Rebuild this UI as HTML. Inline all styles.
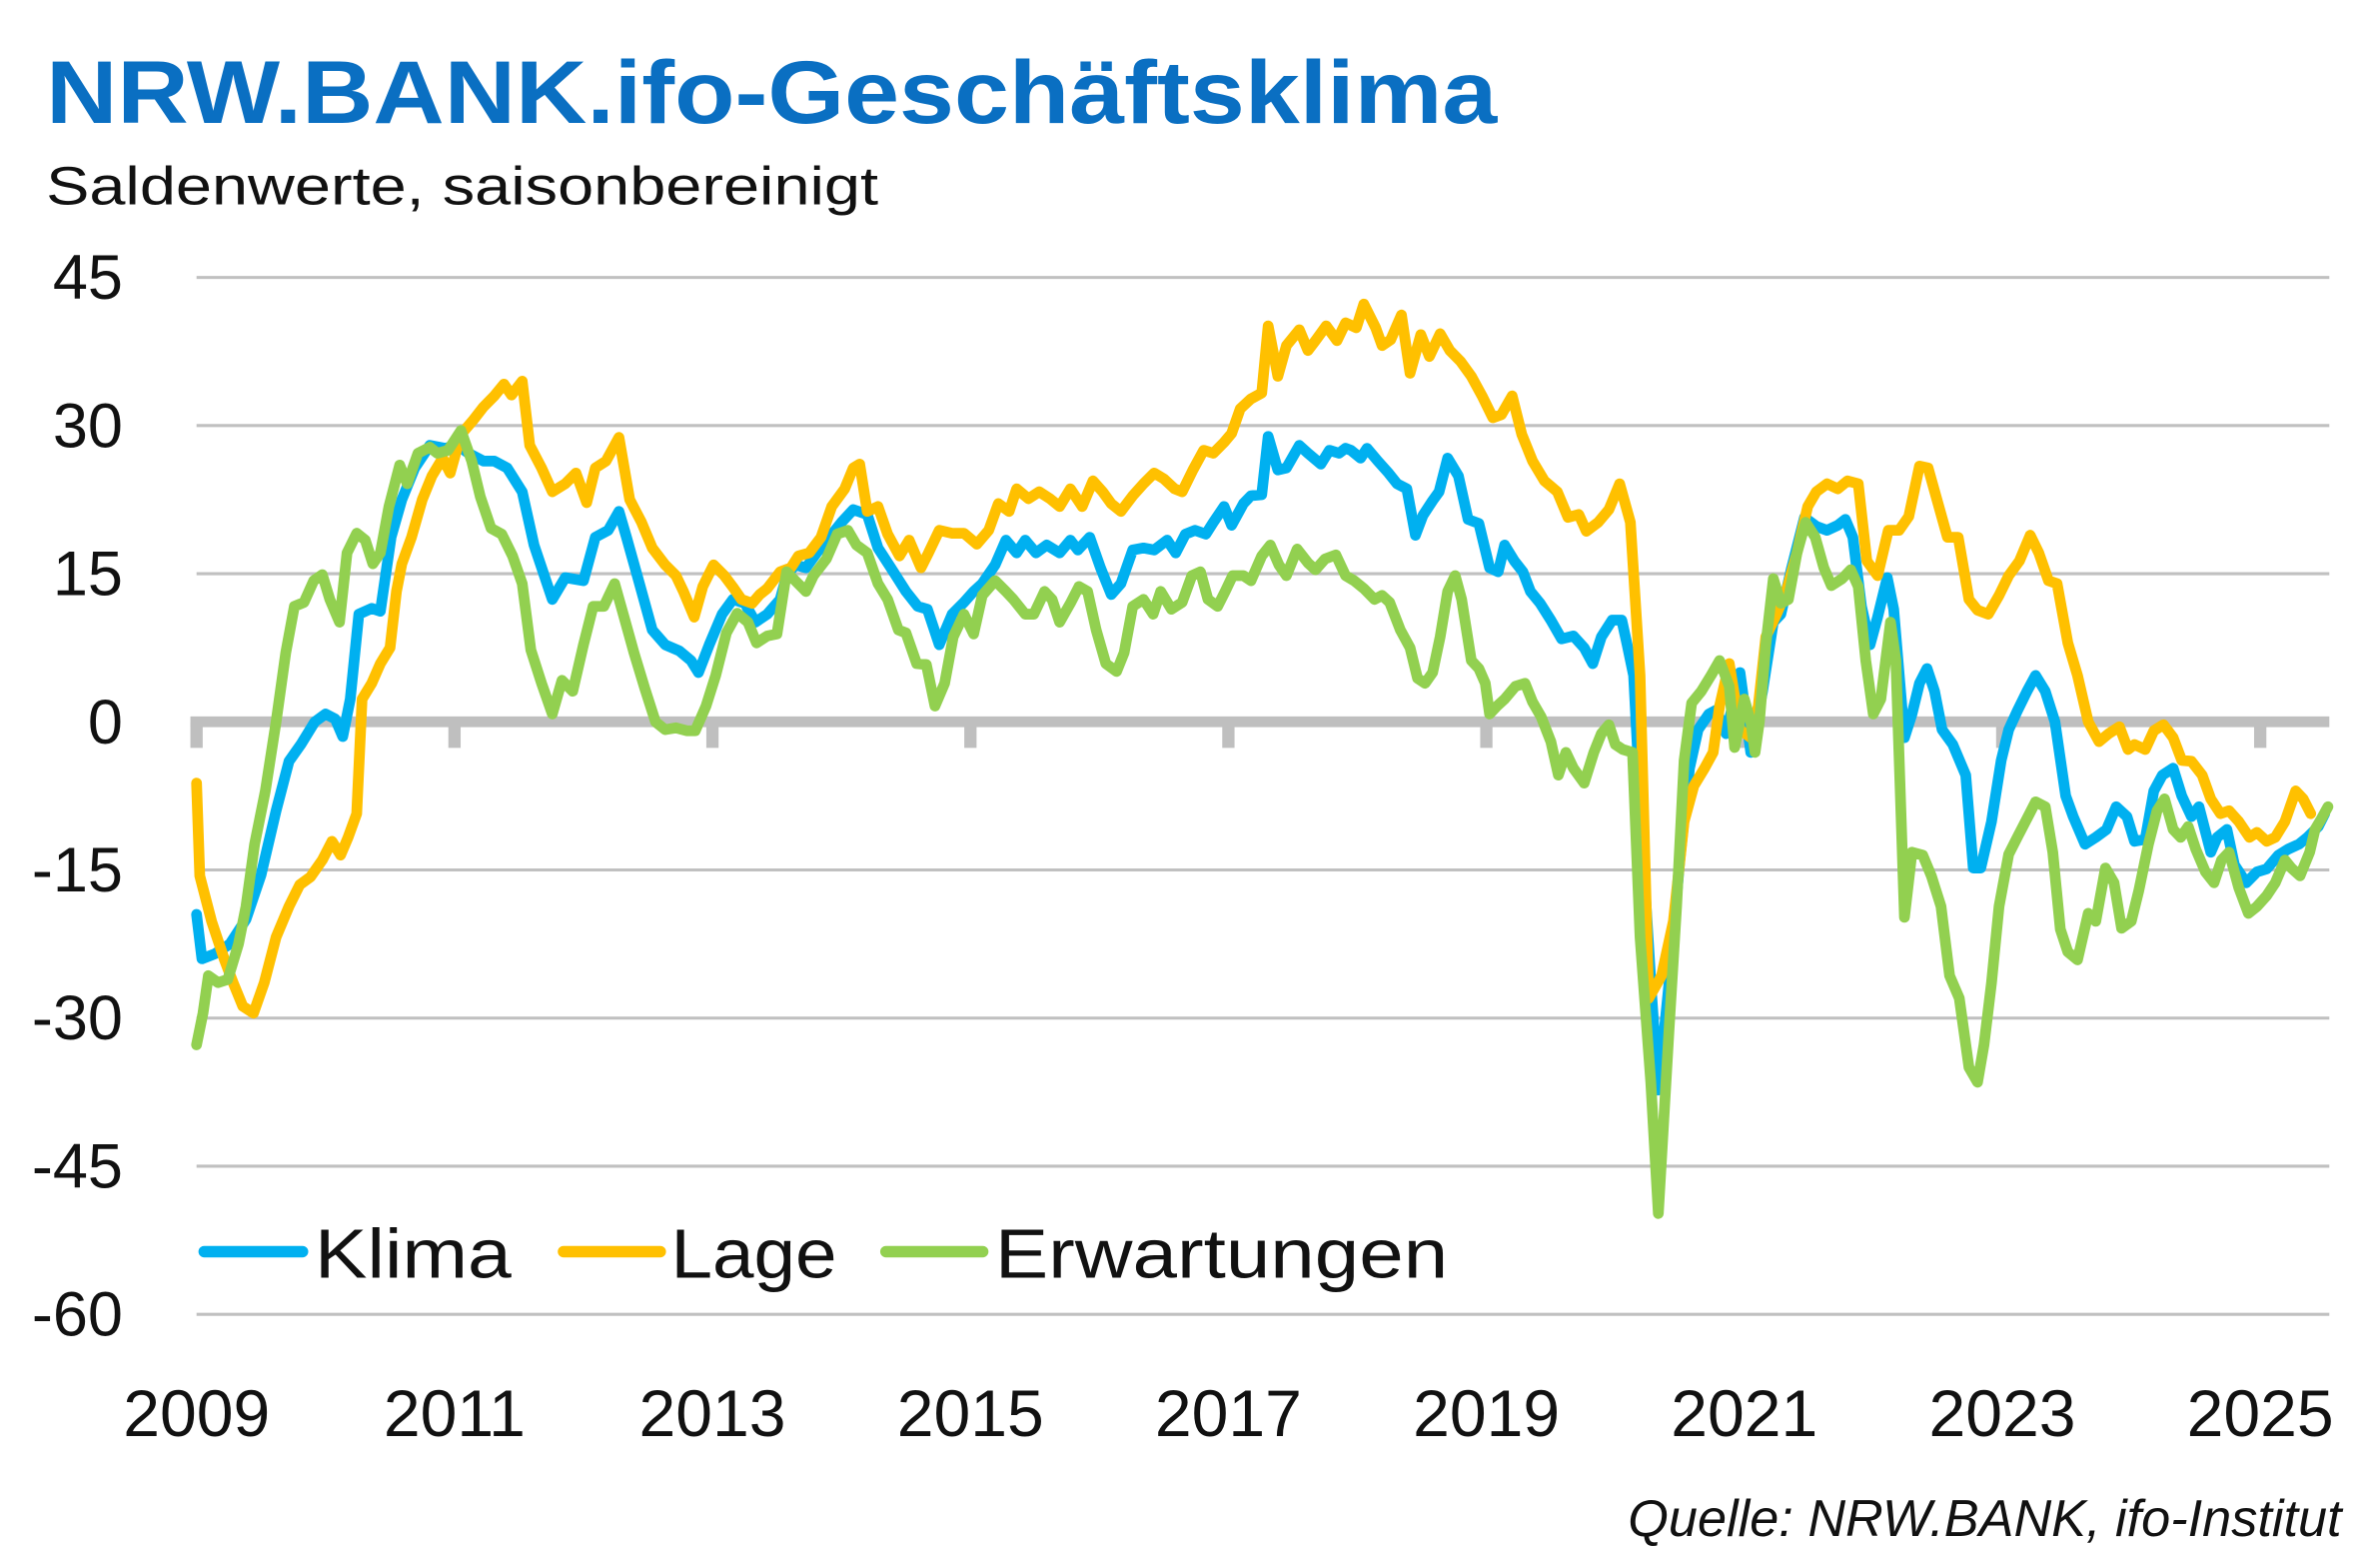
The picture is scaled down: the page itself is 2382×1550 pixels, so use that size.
<!DOCTYPE html>
<html><head><meta charset="utf-8"><style>
html,body{margin:0;padding:0;background:#fff;}
svg{display:block;font-family:"Liberation Sans",sans-serif;}
</style></head><body>
<svg id="chart" xmlns="http://www.w3.org/2000/svg" width="2382" height="1550" viewBox="0 0 1550 1008.6" preserveAspectRatio="none">
<text x="30" y="80" font-size="58" font-weight="bold" fill="#0a6fc2" textLength="945" lengthAdjust="spacingAndGlyphs">NRW.BANK.ifo-Geschäftsklima</text>
<text x="30" y="133" font-size="35" fill="#111" textLength="542" lengthAdjust="spacingAndGlyphs">Saldenwerte, saisonbereinigt</text>
<g id="grid"></g>
<g id="yl"></g>
<g id="xl"></g>
<g id="series"></g>
<g>
<line x1="133" y1="815" x2="197" y2="815" stroke="#00b0f0" stroke-width="7.5" stroke-linecap="round"/>
<text x="205" y="832" font-size="45" fill="#111" textLength="128" lengthAdjust="spacingAndGlyphs">Klima</text>
<line x1="367" y1="815" x2="430" y2="815" stroke="#ffc000" stroke-width="7.5" stroke-linecap="round"/>
<text x="437" y="832" font-size="45" fill="#111" textLength="108" lengthAdjust="spacingAndGlyphs">Lage</text>
<line x1="577" y1="815" x2="640" y2="815" stroke="#92d050" stroke-width="7.5" stroke-linecap="round"/>
<text x="648" y="832" font-size="45" fill="#111" textLength="295" lengthAdjust="spacingAndGlyphs">Erwartungen</text>
</g>
<text x="1525" y="1000" font-size="34" font-style="italic" fill="#111" text-anchor="end">Quelle: NRW.BANK, ifo-Institut</text>
</svg>
<script>
const yTicks=[45,30,15,0,-15,-30,-45,-60];
const yTickLabels=["45","30","15","0","-15","-30","-45","-60"];
const xTickYears=[2009,2011,2013,2015,2017,2019,2021,2023,2025];
const klimaMonths=[0,0.5,1.7,3.1,4.6,6,7.4,8.6,9.7,11,12,12.9,13.6,14.3,15.1,16.3,17.1,18.1,19.1,20.3,21.7,23.1,24.3,25.3,26.7,27.7,28.9,30.3,31.4,33.1,34.3,36,37.1,38.3,39.3,40,41,42.4,43.6,44.9,46,46.7,47.7,48.9,49.9,51,52,53.1,54.3,54.9,55.7,56.7,57.7,58.9,60,61.1,62.4,63.4,64.6,66,67.1,68,69.1,70.3,71.4,72.3,73.1,74.3,75.3,76.3,77.1,78.1,79.1,80.3,81.3,82,83.1,84.1,85.1,86,87.1,88.1,89.1,90.3,91.1,92,92.9,93.9,94.6,95.6,96.3,97.4,98.1,99.1,99.7,100.6,101.4,102.6,103.4,104.6,105.4,106.3,106.9,107.4,108.3,108.9,109.9,110.9,111.7,112.6,113.4,114.1,115,115.6,116.4,117.4,118.3,119.3,120.3,121.1,121.7,122.6,123.4,124.1,125,126,127,128.1,129.1,129.9,130.7,131.7,132.6,133.1,133.7,134.6,135.4,136,137,138,138.9,139.7,140.7,141.4,142.3,142.9,143.6,144.6,145.7,146.7,147.4,148.4,149.6,150.7,151.7,152.7,153.4,154.1,154.9,155.7,156.4,157.3,157.9,158.9,159.6,160.3,161,161.7,162.4,163.4,164.6,165.3,166,167,167.9,168.6,169.4,170.3,171.1,172,172.9,173.9,174.6,175.7,176.7,177.7,178.6,179.6,180.3,181.3,182.1,182.9,183.9,184.7,185.6,186.3,187.4,188,188.9,189.6,190.7,191.7,192.6,193.7,194.6,195.6,196.4,197.4,198];
const klimaValues=[-19.5,-24,-23.5,-22.5,-20,-15.5,-9,-4,-2.3,0,0.8,0.3,-1.5,2.3,10.9,11.5,11.2,18.7,22.5,25.7,28,27.7,28,27.2,26.4,26.4,25.7,23.3,17.9,12.4,14.6,14.3,18.7,19.4,21.3,18.7,14.8,9.3,7.8,7.2,6.2,5,7.8,10.9,12.4,12,10.1,10.9,12.4,14.8,15.9,15.6,17.1,18.7,20.2,21.5,21,17.6,15.6,13.2,11.7,11.4,7.8,10.9,12.1,13.2,14,15.9,18.4,17.1,18.4,17.1,17.9,17.1,18.4,17.4,18.7,15.6,12.9,14,17.4,17.6,17.4,18.4,17.1,19,19.4,19,20.2,21.8,19.9,22.1,22.9,23,28.9,25.5,25.7,28,27.2,26.1,27.5,27.2,27.7,27.5,26.7,27.7,26.4,25.2,24.1,23.6,18.9,20.9,22.4,23.3,26.7,24.9,20.5,20.1,15.6,15.2,17.9,16.3,15.2,13.2,12,10.3,8.4,8.7,7.5,5.9,8.6,10.3,10.3,7.8,4.7,-14,-28,-37.3,-26.4,-14,-4.7,-0.8,0.8,1.2,-1.2,1.6,5,-3.1,3.1,10.1,10.9,15.6,20.7,19.8,19.4,19.9,20.5,18.7,11.7,7.8,10.6,14.6,11.4,-1.6,0.8,3.9,5.4,3.1,-0.8,-2.3,-5.4,-14.8,-14.8,-10.1,-3.9,-0.8,1.1,3.1,4.7,3.1,0,-7.5,-9.6,-12.4,-11.7,-10.9,-8.6,-9.6,-12.1,-11.9,-7,-5.4,-4.7,-7.5,-9.6,-8.6,-13.2,-11.7,-10.9,-14.5,-16.3,-15.2,-14.9,-13.5,-12.9,-12.4,-11.7,-10.6,-9.3];
const lageMonths=[0,0.3,1.4,2.6,3.4,4.3,5.3,6.3,7.4,8.6,9.6,10.6,11.7,12.6,13.4,14.1,14.9,15.4,16.3,17.1,18,18.6,19.1,20,21,21.9,22.9,23.6,24.6,25.7,26.7,27.7,28.6,29.3,30.3,31,32.1,33.1,34.3,35.3,36.3,37.1,38.1,39.3,40.3,41.4,42.4,43.6,44.6,45.3,46.3,47.1,48.1,49.1,50,50.7,51.7,52.4,53.1,54.3,55.3,56,57,58.1,59.1,60.3,61.1,61.7,62.4,63.4,64.3,65.4,66.3,67.4,68.1,69.1,70.3,71.4,72.6,73.7,74.6,75.6,76.3,77.4,78.4,79.4,80.3,81.3,82.4,83.4,84.3,85.1,86,87.1,88.1,89.1,90,91,91.7,92.7,93.7,94.6,95.6,96.3,97.1,98.1,99.1,99.7,100.6,101.4,102.6,103.4,104.1,105.1,106.1,106.9,107.9,108.6,109.7,110.3,111.1,112.1,112.9,113.9,114.7,115.7,116.6,117.6,118.6,119.6,120.6,121.4,122.4,123.3,124.3,125.4,126.6,127.6,128.6,129.3,130.4,131.4,132.4,133.4,134.3,135.1,136.3,137.4,138.4,139.3,140.3,141.1,141.7,142.6,143.6,144.6,145.3,146,147,147.9,148.9,149.9,150.7,151.7,152.7,153.6,154.6,155.4,156.4,157.4,158.4,159.3,160.3,161.1,162.1,162.9,163.9,164.9,165.7,166.7,167.7,168.6,169.6,170.6,171.4,172.3,173.1,174.1,175,176,177,177.9,178.9,179.7,180.3,181.3,182.1,183,183.9,184.7,185.6,186.6,187.4,188.3,189.1,190,191,191.7,192.6,193.4,194.3,195.3,196,196.7];
const lageValues=[-6.2,-15.6,-20.2,-24.1,-26.4,-28.8,-29.5,-26.4,-21.8,-18.7,-16.5,-15.7,-14,-12.1,-13.5,-11.7,-9.3,2.3,3.9,5.9,7.5,13.2,16,18.7,22.5,24.9,26.7,25.2,29.1,30.5,31.9,33,34.2,33.1,34.5,28,25.7,23.3,24.1,25.2,22.2,25.7,26.4,28.8,22.5,20.2,17.6,15.9,14.8,13.2,10.6,13.7,15.9,14.8,13.5,12.4,12,12.9,13.5,15.2,15.6,16.8,17.1,18.7,21.8,23.6,25.7,26.1,21.3,21.8,19,16.8,18.4,15.6,17.1,19.4,19.1,19.1,18,19.4,22.1,21.3,23.6,22.6,23.3,22.6,21.8,23.6,21.8,24.4,23.3,22.1,21.3,22.9,24.1,25.2,24.6,23.6,23.3,25.5,27.5,27.2,28.3,29.2,31.7,32.7,33.3,40.1,35,38.1,39.7,37.6,38.6,40.1,38.6,40.4,39.9,42.3,39.9,38.1,38.7,41.2,35.3,39.2,37,39.3,37.6,36.5,35,33,30.8,31.1,33,29.1,26.4,24.4,23.3,20.7,21,19.3,20.2,21.5,24.1,20.2,4.7,-28,-25.7,-20.2,-10.1,-6.5,-4.7,-3.1,1.6,5.9,-0.8,-1.6,1.6,8.6,10.9,13.2,17.1,21.8,23.3,24.1,23.6,24.4,24.1,16.3,14.8,19.4,19.4,20.8,25.9,25.7,21.8,18.7,18.7,12.4,11.3,10.9,12.8,14.8,16.3,18.9,17.1,14.3,14,8,4.7,0,-2,-1.2,-0.5,-2.8,-2.3,-2.8,-0.9,-0.3,-1.6,-3.9,-4,-5.4,-7.8,-9.3,-9,-10.1,-11.7,-11.2,-12.1,-11.7,-10.1,-7,-7.8,-9.3];
const erwMonths=[0,0.6,1.1,2,2.9,3.9,4.6,5.4,6.4,7.4,8.3,9.1,10,10.9,11.7,12.4,13.3,14,14.9,15.7,16.4,17.1,17.9,18.9,19.6,20.6,21.7,22.4,23.4,24.6,25.6,26.4,27.4,28.4,29.4,30.3,31.1,32.1,33.1,34,35,36,36.9,37.9,38.9,39.7,40.7,41.7,42.7,43.6,44.6,45.6,46.4,47.4,48.3,49.3,50.3,51.3,52.1,53.1,54,54.9,55.7,56.7,57.4,58.6,59.6,60.6,61.4,62.4,63.4,64.3,65.3,66,67,67.9,68.7,69.6,70.4,71.4,72.3,73.1,74.3,75.3,76,77.1,77.9,78.9,79.6,80.3,81.3,82.1,82.9,83.7,84.6,85.6,86.3,87.1,88.1,89,89.7,90.7,91.7,92.6,93.4,94.1,95,95.7,96.4,97.4,98.1,99.1,99.9,100.7,101.4,102.4,103.4,104.1,105,106,106.9,107.7,108.6,109.6,110.3,111,112,112.9,113.6,114.3,115,115.7,116.4,117.1,117.7,118.6,119.3,119.9,120.3,121,121.7,122.7,123.6,124.3,125.1,126,126.7,127.4,128.1,129.1,130,130.7,131.4,132,132.7,133.6,134.3,135.3,136,137,137.7,138.4,139.1,140,140.9,141.7,142.6,143.1,144,144.6,145,145.4,146,146.7,147.4,148.1,148.9,149.7,150.6,151.4,152.1,153.1,153.9,154.6,155.3,156,156.7,157.6,158.1,158.9,159.6,160.6,161.4,162.3,163.1,164,164.9,165.7,166.3,167,167.7,168.6,169.4,170.3,171.1,172,172.7,173.4,174.1,175,176,176.7,177.6,178.4,179.1,180,180.7,181.6,182.4,183.1,183.9,184.6,185.3,186,186.9,187.7,188.4,189.1,190,190.9,191.7,192.6,193.4,194.3,194.9,195.7,196.6,197.1,197.7,198.3];
const erwValues=[-32.7,-29.5,-25.7,-26.4,-26.1,-22.5,-18.7,-12.4,-7,0,7,11.7,12.1,14.3,14.9,12.4,10.1,17.1,19.1,18.4,16,17.1,21.8,26,24.1,27.2,27.8,27.2,27.5,29.5,26.4,22.8,19.6,19,16.8,14,7.3,3.9,0.8,4.2,3.1,7.8,11.7,11.7,14,10.9,7,3.4,0,-0.8,-0.6,-0.9,-0.9,1.6,4.7,9,11,10.1,8,8.7,8.9,15.2,14.3,13.2,14.8,16.5,19,19.4,17.9,17.1,14,12.4,9.3,9,5.9,5.8,1.6,3.9,8.6,10.9,8.9,12.8,14.3,13.2,12.4,10.9,10.9,13.2,12.4,10.1,12,13.7,13.2,9.3,5.9,5.1,7,11.7,12.4,10.9,13.2,11.4,12.1,14.8,15.2,12.4,11.7,13.2,14.8,14.8,14.3,16.8,17.9,15.9,14.8,17.5,16.1,15.4,16.5,16.9,14.8,14.3,13.5,12.4,12.8,12.1,9.3,7.5,4.4,3.9,5,8.6,13.2,14.8,12.4,6.2,5.4,3.9,0.8,1.6,2.3,3.6,3.9,2,0.5,-2,-5.4,-3.1,-4.7,-6.2,-3.1,-1.2,-0.3,-2.3,-2.8,-3.1,-21.8,-36.5,-49.8,-31.1,-18.7,-3.9,1.9,3.1,4.7,6.2,3.6,-2.6,2.3,0,-3.1,0,7.8,14.5,12,12.4,17.1,20.2,18.7,15.6,13.8,14.5,15.4,13.7,6.2,0.8,2.3,10.1,6.2,-19.8,-13.2,-13.5,-15.6,-18.7,-25.7,-28,-35,-36.5,-32.7,-26.4,-18.7,-13.4,-11.7,-9.8,-8.1,-8.6,-13.2,-21,-23.3,-24.1,-19.4,-20.2,-14.8,-16.3,-20.9,-20.2,-17.1,-12.4,-9,-7.8,-10.9,-11.7,-10.6,-12.9,-15.2,-16.3,-14,-13.2,-16.8,-19.4,-18.7,-17.6,-16.3,-14,-14.8,-15.6,-13.2,-10.9,-9.8,-8.6];

const NS="http://www.w3.org/2000/svg";
const X0=128,X1=1517,PX_PER_MONTH=7,Y_ZERO=470,PX_PER_UNIT=6.43;
function xScale(m){return X0+m*PX_PER_MONTH;}
function yScale(v){return Y_ZERO-v*PX_PER_UNIT;}
function xYear(y){return xScale((y-2009)*12);}
function mk(tag,attrs){const e=document.createElementNS(NS,tag);for(const k in attrs)e.setAttribute(k,attrs[k]);return e;}

const grid=document.getElementById('grid');
yTicks.forEach((v)=>{
  if(v===0)return;
  const l=mk('line',{x1:X0,x2:X1,y1:yScale(v),y2:yScale(v),stroke:'#c0c0c0','stroke-width':2});
  
  
  grid.appendChild(l);
});
const zl=mk('line',{x1:X0-4,x2:X1,y1:yScale(0),y2:yScale(0),stroke:'#bfbfbf','stroke-width':7});


grid.appendChild(zl);
xTickYears.forEach((yr)=>{
  const t=mk('line',{x1:xYear(yr),x2:xYear(yr),y1:yScale(0),y2:yScale(0)+17,stroke:'#bfbfbf','stroke-width':8});
  
  
  grid.appendChild(t);
});
const yl=document.getElementById('yl');
yTicks.forEach((v,i)=>{
  const t=mk('text',{x:80,y:yScale(v)+14,'font-size':41,fill:'#111','text-anchor':'end'});
  t.textContent=yTickLabels[i];
  
  
  yl.appendChild(t);
});
const xl=document.getElementById('xl');
xTickYears.forEach((yr)=>{
  const t=mk('text',{x:xYear(yr),y:935,'font-size':43,fill:'#111','text-anchor':'middle'});
  t.textContent=String(yr);
  
  
  xl.appendChild(t);
});
function drawSeries(months,values,color,name){
  const pts=months.map((m,i)=>xScale(m).toFixed(1)+','+yScale(values[i]).toFixed(1)).join(' ');
  const p=mk('polyline',{points:pts,fill:'none',stroke:color,'stroke-width':7,'stroke-linejoin':'round','stroke-linecap':'round'});
  
  
  document.getElementById('series').appendChild(p);
}
drawSeries(klimaMonths,klimaValues,'#00b0f0','klima-line');
drawSeries(lageMonths,lageValues,'#ffc000','lage-line');
drawSeries(erwMonths,erwValues,'#92d050','erwartungen-line');
</script>
</body></html>
